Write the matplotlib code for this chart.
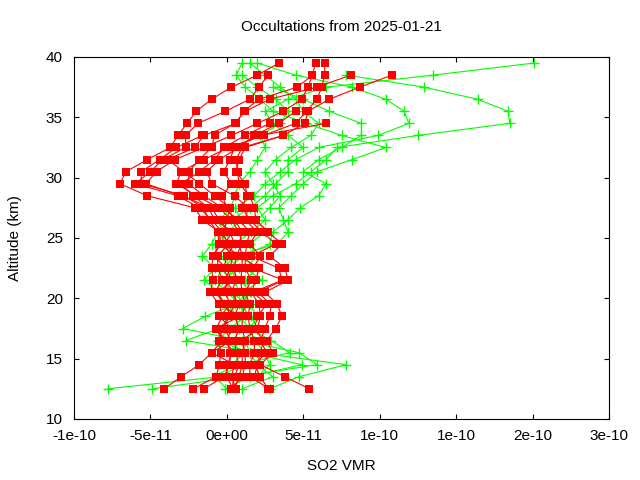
import numpy as np
import matplotlib
matplotlib.use('Agg')
import matplotlib.pyplot as plt

nan = np.nan
scale = 1e-11  # profile values below are in units of 1e-11

# altitude levels (km), bottom to top
altitude = [12.5, 13.5, 14.5, 15.5, 16.5, 17.5, 18.5, 19.5, 20.5, 21.5,
            22.5, 23.5, 24.5, 25.5, 26.5, 27.5, 28.5, 29.5, 30.5, 31.5,
            32.5, 33.5, 34.5, 35.5, 36.5, 37.5, 38.5, 39.5]

# red profiles (squares)
red_profiles = [
    [-4.1, -3.0, -1.8, -1.0, -0.3, -0.7, -0.3, -0.5, -1.1, -0.9, -1.0, -0.9, -0.4, -0.5,
     -1.6, -2.1, -5.2, -7.0, -6.6, -5.2, -3.7, -3.2, -2.6, -2.0, -1.0, 0.3, 2.0, 3.4],
    [-2.2, -0.7, -0.5, -0.4, -0.5, -0.3, 0.2, 0.0, -0.8, -0.3, -0.6, -0.6, 0.1, -0.3,
     -1.0, -1.8, -3.2, -6.0, -5.0, -4.2, -2.7, -2.7, -1.9, -0.1, 1.5, 2.1, 2.7, nan],
    [-1.5, -0.2, 0.2, 0.2, 0.0, 0.3, -0.5, 0.3, -0.2, 0.1, -0.2, 0.0, 0.5, 0.2,
     -0.5, -1.0, -3.0, -5.3, -4.6, -3.4, -1.5, 0.3, 2.0, 3.7, 4.9, 5.3, 5.6, 5.8],
    [0.3, 0.5, 0.8, 0.6, 0.5, 0.8, 0.5, 0.8, 0.3, 0.6, 0.5, 0.6, 1.0, 0.8,
     0.3, -0.5, -2.0, -3.3, -3.0, -1.5, 0.1, 2.4, 4.5, 5.2, 5.9, 6.2, 6.4, 6.4],
    [5.4, 3.8, 2.2, 3.0, 2.6, 3.2, 3.6, 3.3, 2.5, 4.0, 3.8, 2.8, 3.6, 2.7,
     1.9, 1.8, 1.5, 0.8, 0.7, 0.6, 1.0, 3.7, 5.1, 5.3, 6.7, 8.7, 10.8, nan],
    [2.8, 1.5, 1.5, 1.8, 1.8, 1.5, 1.4, 1.5, 1.2, 1.6, 1.2, 1.2, 1.3, 1.5,
     0.8, -0.3, -1.5, -2.5, -2.5, -1.8, -1.0, -0.8, 0.5, 1.2, 2.8, 5.9, 8.1, nan],
    [0.6, 0.3, 0.5, -1.0, 0.3, -0.2, 0.0, 0.6, 0.5, -0.1, 0.2, 0.4, -0.3, -0.2,
     0.0, 0.2, -0.8, -1.8, -2.8, -3.9, -2.1, -1.5, 0.6, 1.1, 2.1, 4.6, 5.6, nan],
    [2.7, 2.2, 1.8, 2.6, 2.2, 2.5, 2.8, 2.9, 2.0, 3.7, 1.7, 2.2, 1.5, 2.0,
     1.2, 1.4, 0.5, -1.0, -1.3, -0.5, 0.8, 1.8, 3.4, 4.5, nan, nan, nan, nan],
    [0.5, 0.8, 1.0, 1.0, 1.2, 1.0, 1.0, 1.2, 1.0, 0.9, 1.0, 1.0, 0.8, 1.0,
     0.5, 0.0, -0.3, 0.3, -0.2, 0.2, 0.5, 2.2, 6.5, nan, nan, nan, nan, nan],
    [0.3, 1.0, 1.2, 1.2, 1.0, 2.0, 2.2, 2.1, 1.6, 1.9, 2.1, 0.8, -0.2, 0.4,
     -0.8, -1.2, -2.2, -3.0, -1.8, -0.8, -0.2, 1.2, 2.8, nan, nan, nan, nan, nan],
    [nan, 1.8, 2.0, 2.2, 2.4, 1.8, 2.0, 2.6, 1.7, 3.6, 3.4, 1.6, 3.2, 2.3,
     1.5, 1.0, 1.3, 1.2, 0.6, 0.8, 1.2, 3.7, nan, nan, nan, nan, nan, nan],
    [0.4, 0.0, 0.0, 0.4, -0.1, -0.7, 0.8, -0.4, -0.5, 0.3, 0.0, -0.9, -0.5, -0.6,
     -1.2, -1.5, -2.8, -5.6, -5.6, -4.4, -3.3, -1.6, nan, nan, nan, nan, nan, nan],
]

# green profiles (crosses)
green_profiles = [
    [-7.8, -0.5, 1.0, 4.1, 2.9, 1.5, 0.8, 1.2, 0.4, -0.3, 0.8, 0.0, 0.5, 1.6,
     2.5, 2.0, 3.0, 4.5, 5.5, 6.5, 7.2, 12.5, 18.5, 18.4, 16.4, 12.9, 7.8, nan],
    [-4.9, 0.8, 5.9, 4.7, 1.0, -2.9, -1.4, 0.5, 1.5, 0.9, 0.2, 1.0, -0.8, 0.0,
     1.0, 0.5, 1.8, 2.5, 3.5, 4.5, 6.0, 9.9, 11.9, 11.6, 10.4, 8.2, 4.5, 2.0],
    [2.8, 4.7, 7.8, 2.0, -2.7, -0.5, 0.3, -0.2, -0.5, -1.5, -0.8, -1.6, -1.0, -0.6,
     0.3, 1.5, 2.5, 3.2, 4.0, 4.0, 5.0, 4.0, 3.0, 2.5, 4.0, 6.5, 13.5, 20.1],
    [-0.1, 1.5, 4.9, 1.5, -0.6, 0.2, 1.2, 0.9, 0.0, -0.8, -0.2, 0.5, 3.3, 4.0,
     3.7, 3.4, 4.2, 5.0, 5.9, 8.2, 10.4, 7.5, 5.2, 3.0, 2.2, 1.2, 0.6, 1.0],
    [nan, 2.0, 2.8, 2.5, 1.8, 1.5, 2.0, 1.5, 1.0, 2.3, 1.2, 2.0, 1.5, 2.5,
     2.0, 2.8, 3.5, 3.0, 2.5, 3.2, 4.2, 5.5, 6.0, 5.0, 4.5, 3.5, 2.5, 1.5],
    [0.0, -0.8, 0.5, 0.8, 0.5, 0.8, 0.6, 0.2, 0.8, 0.5, 0.4, -0.5, 0.0, -0.3,
     -0.5, 0.3, 0.5, 0.8, 1.5, 2.0, 2.5, 2.2, 3.5, 4.0, 3.2, 2.0, 1.0, nan],
    [1.0, 3.0, 2.0, 1.5, 1.2, 2.0, 1.6, 0.8, 1.6, 1.2, 2.0, 1.0, 2.8, 3.0,
     4.0, 4.8, 6.0, 6.5, 5.0, 6.0, 7.5, 8.8, 8.8, 6.7, 5.0, 3.0, nan, nan],
]

xticks = [-1e-10, -5e-11, 0, 5e-11, 1e-10, 1.5e-10, 2e-10, 2.5e-10]
xtick_labels = ['-1e-10', '-5e-11', '0e+00', '5e-11', '1e-10', '1e-10', '2e-10', '3e-10']
yticks = [10, 15, 20, 25, 30, 35, 40]

plt.rcParams['font.family'] = ['Liberation Sans', 'DejaVu Sans']
plt.rcParams['font.size'] = 11

fig = plt.figure(figsize=(6.4, 4.8), dpi=100)
ax = fig.add_axes([74/640, 1-419/480, (609-74)/640, (419-57)/480])

for prof in green_profiles:
    ax.plot(np.array(prof)*scale, altitude, color='#00ff00', lw=0.8,
            marker='+', ms=7, mew=1)
for prof in red_profiles:
    ax.plot(np.array(prof)*scale, altitude, color='#ff0000', lw=0.8,
            marker='s', ms=5.5, mew=0)

ax.set_xlim(-1e-10, 2.5e-10)
ax.set_ylim(10, 40)
ax.set_xticks(xticks)
ax.set_xticklabels(xtick_labels)
ax.set_yticks(yticks)
ax.tick_params(direction='in', length=3.3, width=0.8, top=True, right=True,
               labelsize=11)
ax.tick_params(axis='x', pad=7)
ax.tick_params(axis='y', pad=8)
for s in ax.spines.values():
    s.set_linewidth(0.8)

fig.text(341/640, 1-27/480, 'Occultations from 2025-01-21', ha='center', va='center', fontsize=11)
fig.text(341/640, 1-466/480, 'SO2 VMR', ha='center', va='center', fontsize=11)
fig.text(15/640, 1-238/480, 'Altitude (km)', ha='center', va='center', rotation=90, fontsize=11)

fig.savefig('out.png', dpi=100)
